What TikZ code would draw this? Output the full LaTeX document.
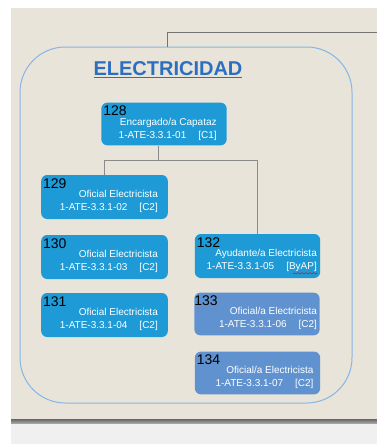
\documentclass[tikz,border=0pt]{standalone}
\usepackage{fontspec}
\setmainfont{Liberation Sans}
\usetikzlibrary{decorations.pathmorphing}

\begin{document}
\begin{tikzpicture}[x=0.75pt,y=-0.75pt,
  unit/.style={rounded corners=4.5pt,minimum width=94pt,minimum height=33pt,inner sep=0pt},
  unitA/.style={unit,fill=cajaazul},
  unitB/.style={unit,fill=cajaacero},
  numero/.style={anchor=north west,inner sep=0pt,text=black,font=\fontsize{10.5}{12}\selectfont},
  cargo/.style={anchor=east,align=right,inner sep=0pt,text=white,font=\fontsize{7.5}{9.5}\selectfont},
  enlace/.style={draw=lineagris,line width=0.75pt}]

  \definecolor{fondobeige}{HTML}{E8E4D9}
  \definecolor{fondogris}{HTML}{F0F0F0}
  \definecolor{cajaazul}{HTML}{1E9BD7}
  \definecolor{cajaacero}{HTML}{6092D0}
  \definecolor{marcoazul}{HTML}{86B6E6}
  \definecolor{tituloazul}{HTML}{2B6FC0}
  \definecolor{lineagris}{HTML}{8A8A8A}

  \useasboundingbox (0,0) rectangle (377,444);
  \fill[white] (0,0) rectangle (377,444);
  \fill[fondobeige] (11,8) rectangle (377,419);
  \shade[top color=gray!80!black,bottom color=gray!60] (11,419) rectangle (377,424);
  \fill[fondogris] (11,424) rectangle (377,444);

  % grupo
  \node[draw=marcoazul,line width=0.75pt,rounded corners=34pt,minimum width=249pt,minimum height=267pt,inner sep=0pt] (grupo) at (186,225) {};
  \coordinate (enganche) at (167,32);
  \coordinate (salida) at (377,32);
  \draw[enlace,draw=gray!90!black] (grupo.north -| enganche) -- (enganche) -- (salida);

  \node[text=tituloazul,font=\bfseries\fontsize{15}{17}\selectfont] (tit) at (168,70) {\underline{ELECTRICIDAD}};

  % puestos
  \node[unitA,minimum width=94pt,minimum height=32pt] (u128) at (164,124) {};
  \node[unitA,minimum width=95pt] (u129) at (104.5,197) {};
  \node[unitA,minimum width=95pt] (u130) at (104.5,257) {};
  \node[unitA,minimum width=95pt] (u131) at (104.5,315) {};
  \node[unitA] (u132) at (257.5,256) {};
  \node[unitB,minimum height=32pt] (u133) at (257,314) {};
  \node[unitB,minimum height=32pt] (u134) at (257.5,373) {};

  \node[numero] (n128) at ([xshift=1.5pt,yshift=-2.5pt]u128.north west) {128};
  \node[numero] (n129) at ([xshift=1.5pt,yshift=-2.5pt]u129.north west) {129};
  \node[numero] (n130) at ([xshift=1.5pt,yshift=-2.5pt]u130.north west) {130};
  \node[numero] (n131) at ([xshift=1.5pt,yshift=-2.5pt]u131.north west) {131};
  \node[numero] (n132) at ([xshift=1.5pt,yshift=-2.5pt]u132.north west) {132};
  \node[numero] (n133) at ([xshift=0pt,yshift=-2.5pt]u133.north west) {133};
  \node[numero] (n134) at ([xshift=1.5pt,yshift=-2.5pt]u134.north west) {134};

  \node[cargo] (t128) at ([xshift=-7.5pt,yshift=-4pt]u128.east) {Encargado/a Capataz\\1-ATE-3.3.1-01\hspace{9pt}[C1]};
  \node[cargo] (t129) at ([xshift=-7.5pt,yshift=-3.5pt]u129.east) {Oficial Electricista\\1-ATE-3.3.1-02\hspace{9pt}[C2]};
  \node[cargo] (t130) at ([xshift=-7.5pt,yshift=-3.5pt]u130.east) {Oficial Electricista\\1-ATE-3.3.1-03\hspace{9pt}[C2]};
  \node[cargo] (t131) at ([xshift=-7.5pt,yshift=-3.5pt]u131.east) {Oficial Electricista\\1-ATE-3.3.1-04\hspace{9pt}[C2]};
  \node[cargo] (t132) at ([xshift=-2.5pt,yshift=-3.5pt]u132.east) {Ayudante/a Electricista\\1-ATE-3.3.1-05\hspace{9pt}[ByAP]};
  \node[cargo] (t133) at ([xshift=-2pt,yshift=-3.5pt]u133.east) {Oficial/a Electricista\\1-ATE-3.3.1-06\hspace{9pt}[C2]};
  \node[cargo] (t134) at ([xshift=-5pt,yshift=-3.5pt]u134.east) {Oficial/a Electricista\\1-ATE-3.3.1-07\hspace{9pt}[C2]};

  \draw[red,decorate,decoration={snake,amplitude=0.5pt,segment length=3pt}] ([yshift=-1pt]t132.south east) -- ++(-18pt,0);

  % enlaces
  \coordinate (bus) at (158,160);
  \draw[enlace] (u128.south -| bus) -- (bus);
  \draw[enlace] (u129.north) -- (u129.north |- bus) -- (u132.north |- bus) -- (u132.north);
\end{tikzpicture}
\end{document}
